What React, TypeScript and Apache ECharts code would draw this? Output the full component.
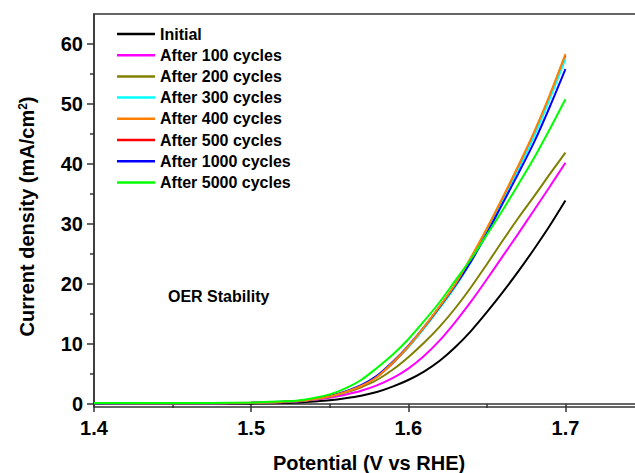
import React, { useEffect, useRef } from "react";
import * as echarts from "echarts";

const potentials = [1.4, 1.45, 1.5, 1.52, 1.53, 1.54, 1.55, 1.56, 1.57, 1.58, 1.59, 1.6, 1.61, 1.62, 1.63, 1.64, 1.65, 1.66, 1.67, 1.68, 1.69, 1.7];

const initial = [0.05, 0.05, 0.1, 0.18, 0.27, 0.42, 0.62, 0.95, 1.38, 2.0, 2.9, 4.0, 5.4, 7.2, 9.5, 12.2, 15.3, 18.6, 22.1, 25.8, 29.7, 33.9];
const after100 = [0.08, 0.08, 0.15, 0.3, 0.42, 0.7, 1.05, 1.55, 2.2, 3.1, 4.3, 5.9, 8.0, 10.6, 13.7, 17.1, 20.8, 24.6, 28.4, 32.3, 36.2, 40.2];
const after200 = [0.1, 0.1, 0.2, 0.35, 0.5, 0.8, 1.25, 1.9, 2.8, 4.0, 5.7, 7.8, 10.2, 12.9, 16.0, 19.5, 23.3, 27.2, 31.0, 34.6, 38.3, 41.9];
const after300 = [0.13, 0.12, 0.2, 0.35, 0.48, 0.8, 1.25, 2.0, 3.05, 4.55, 6.9, 9.5, 12.6, 16.0, 19.6, 23.8, 28.6, 33.7, 39.0, 44.6, 50.8, 57.5];
const after400 = [0.15, 0.12, 0.2, 0.35, 0.48, 0.8, 1.25, 2.0, 3.0, 4.5, 6.9, 9.6, 12.8, 16.3, 20.0, 24.5, 29.3, 34.4, 39.7, 45.3, 51.5, 58.3];
const after500 = [0.14, 0.12, 0.2, 0.35, 0.48, 0.8, 1.25, 2.0, 3.0, 4.5, 6.8, 9.5, 12.7, 16.2, 19.9, 24.2, 29.1, 34.2, 39.5, 45.1, 51.3, 58.1];
const after1000 = [0.12, 0.12, 0.2, 0.36, 0.5, 0.85, 1.3, 2.1, 3.15, 4.7, 7.0, 9.7, 12.8, 16.2, 19.8, 23.8, 28.4, 33.4, 38.4, 43.6, 49.5, 55.8];
const after5000 = [0.15, 0.15, 0.25, 0.45, 0.6, 1.0, 1.6, 2.6, 4.0, 6.0, 8.2, 10.8, 13.8, 17.0, 20.6, 24.2, 28.2, 32.3, 36.6, 41.0, 45.8, 50.8];

const legendNames = ["Initial", "After 100 cycles", "After 200 cycles", "After 300 cycles", "After 400 cycles", "After 500 cycles", "After 1000 cycles", "After 5000 cycles"];

const xMajorTicks = [1.4, 1.5, 1.6, 1.7];
const xMinorTicks = [1.45, 1.55, 1.65];
const yMajorTicks = [0, 10, 20, 30, 40, 50, 60];
const yMinorTicks = [5, 15, 25, 35, 45, 55];

// drawing order (later on top)
const seriesDefs = [
  { name: "Initial", data: initial, color: "#000000" },
  { name: "After 100 cycles", data: after100, color: "#FF00FF" },
  { name: "After 200 cycles", data: after200, color: "#808000" },
  { name: "After 500 cycles", data: after500, color: "#FF0000" },
  { name: "After 300 cycles", data: after300, color: "#00FFFF" },
  { name: "After 1000 cycles", data: after1000, color: "#0000FF" },
  { name: "After 400 cycles", data: after400, color: "#FF8000" },
  { name: "After 5000 cycles", data: after5000, color: "#00FF00" },
];

const FONT = "'Liberation Sans', Arial, sans-serif";
const AXIS_COLOR = "#333333";

export default function App() {
  const ref = useRef<HTMLDivElement>(null);
  useEffect(() => {
    if (!ref.current) return;
    const chart = echarts.init(ref.current, null, { renderer: "svg" });
    const gridBox = { left: 94, top: 14, width: 550, height: 393, outerBoundsMode: "none", containLabel: false };
    chart.setOption({
      animation: false,
      backgroundColor: "#ffffff",
      textStyle: { fontFamily: FONT },
      grid: [
        { ...gridBox, show: true, borderColor: AXIS_COLOR, borderWidth: 1.5, backgroundColor: "transparent" },
        { ...gridBox },
      ],
      legend: {
        data: legendNames,
        orient: "vertical",
        left: 117,
        top: 26,
        padding: 0,
        icon: "rect",
        itemWidth: 38,
        itemHeight: 2.5,
        itemGap: 5.2,
        selectedMode: false,
        textStyle: { fontFamily: FONT, fontSize: 16, fontWeight: "bold", color: "#000", lineHeight: 16 },
      },
      xAxis: [
        {
          gridIndex: 0,
          type: "value",
          min: 1.4,
          max: 1.75,
          axisLine: { lineStyle: { color: AXIS_COLOR, width: 1.5 } },
          axisTick: { customValues: xMajorTicks, length: 8, lineStyle: { color: AXIS_COLOR, width: 1.5 } },
          axisLabel: {
            customValues: xMajorTicks,
            formatter: (v: number) => v.toFixed(1),
            fontFamily: FONT,
            fontSize: 20,
            fontWeight: "bold",
            color: "#000",
            margin: 11,
          },
          splitLine: { show: false },
          name: "Potential (V vs RHE)",
          nameLocation: "middle",
          nameGap: 46,
          nameTextStyle: { fontFamily: FONT, fontSize: 20, fontWeight: "bold", color: "#000" },
        },
        {
          gridIndex: 1,
          type: "value",
          min: 1.4,
          max: 1.75,
          axisLine: { show: false },
          axisTick: { customValues: xMinorTicks, length: 4, lineStyle: { color: AXIS_COLOR, width: 1.5 } },
          axisLabel: { show: false },
          splitLine: { show: false },
        },
      ],
      yAxis: [
        {
          gridIndex: 0,
          type: "value",
          min: -0.5,
          max: 65,
          axisLine: { show: true, lineStyle: { color: AXIS_COLOR, width: 1.5 } },
          axisTick: { show: true, customValues: yMajorTicks, length: 7, lineStyle: { color: AXIS_COLOR, width: 1.5 } },
          axisLabel: {
            customValues: yMajorTicks,
            fontFamily: FONT,
            fontSize: 20,
            fontWeight: "bold",
            color: "#000",
            margin: 11,
          },
          splitLine: { show: false },
          name: "Current density (mA/cm{sup|2})",
          nameLocation: "middle",
          nameGap: 57,
          nameTextStyle: {
            fontFamily: FONT,
            fontSize: 20,
            fontWeight: "bold",
            color: "#000",
            padding: [0, 12, 0, 0],
            rich: {
              sup: { fontFamily: FONT, fontSize: 12, fontWeight: "bold", color: "#000", verticalAlign: "top", lineHeight: 12 },
            },
          },
        },
        {
          gridIndex: 1,
          type: "value",
          min: -0.5,
          max: 65,
          axisLine: { show: false },
          axisTick: { show: true, customValues: yMinorTicks, length: 4, lineStyle: { color: AXIS_COLOR, width: 1.5 } },
          axisLabel: { show: false },
          splitLine: { show: false },
        },
      ],
      graphic: [
        {
          type: "text",
          x: 168,
          y: 296,
          style: {
            text: "OER Stability",
            fontFamily: FONT,
            fontSize: 16,
            fontWeight: "bold",
            fill: "#000",
            verticalAlign: "middle",
          },
        },
      ],
      series: seriesDefs.map((s) => ({
        name: s.name,
        type: "line",
        xAxisIndex: 0,
        yAxisIndex: 0,
        data: potentials.map((e, i) => [e, s.data[i]]),
        showSymbol: false,
        symbol: "none",
        smooth: 0.3,
        color: s.color,
        lineStyle: { color: s.color, width: 2 },
      })),
    });
    return () => chart.dispose();
  }, []);
  return <div ref={ref} style={{ width: 635, height: 473, position: "absolute", left: 0, top: 0 }} />;
}
